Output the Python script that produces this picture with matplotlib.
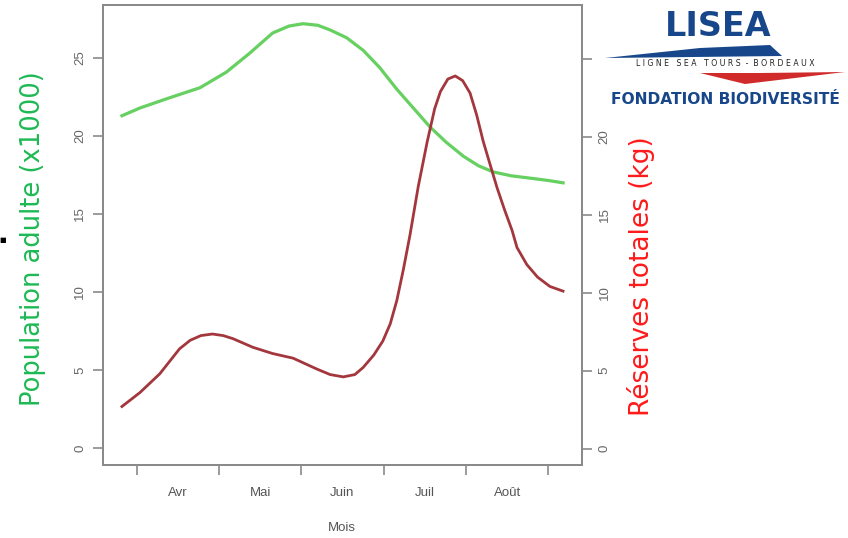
import numpy as np
import matplotlib.pyplot as plt
from matplotlib.patches import Polygon

# axe des mois : 0 = debut avril, 5 = debut septembre
mois = ["Avr", "Mai", "Juin", "Juil", "Août"]

pop_x = [-0.18, 0.04, 0.37, 0.77, 1.09, 1.37, 1.65, 1.85, 2.02, 2.2, 2.35, 2.55,
         2.75, 2.95, 3.16, 3.36, 3.56, 3.76, 3.97, 4.15, 4.33, 4.55, 4.78, 5.0, 5.18]
pop_y = [21.3, 21.8, 22.4, 23.1, 24.1, 25.3, 26.6, 27.05, 27.2, 27.1, 26.8, 26.3,
         25.5, 24.4, 23.0, 21.8, 20.6, 19.6, 18.7, 18.1, 17.7, 17.45, 17.3, 17.15, 17.0]

res_x = [-0.18, 0.04, 0.28, 0.52, 0.65, 0.78, 0.92, 1.05, 1.17, 1.41, 1.65, 1.90,
         2.19, 2.35, 2.51, 2.65, 2.75, 2.88, 2.99, 3.08, 3.16, 3.24, 3.32, 3.42,
         3.53, 3.62, 3.69, 3.78, 3.87, 3.96, 4.05, 4.13, 4.21, 4.30, 4.38, 4.47,
         4.56, 4.62, 4.74, 4.87, 5.02, 5.18]
res_y = [2.7, 3.6, 4.8, 6.4, 6.95, 7.25, 7.35, 7.25, 7.05, 6.5, 6.1, 5.8,
         5.1, 4.75, 4.6, 4.75, 5.2, 6.0, 6.9, 8.0, 9.5, 11.5, 13.7, 16.8,
         19.7, 21.8, 22.9, 23.7, 23.9, 23.6, 22.8, 21.4, 19.7, 18.1, 16.7, 15.3,
         14.0, 12.9, 11.8, 11.0, 10.4, 10.1]

W, H = 848, 538
fig = plt.figure(figsize=(W / 100, H / 100), dpi=100)
ax = fig.add_axes([103 / W, 1 - 465 / H, (582 - 103) / W, (465 - 5) / H])
ax2 = ax.twinx()

gris = "#8a8a8a"
police = "Liberation Sans"

ax.plot(pop_x, pop_y, color="#66d060", lw=2.3, solid_joinstyle="round")
ax2.plot(res_x, res_y, color="#a3373d", lw=2.0, solid_joinstyle="round")

ax.set_xlim(-0.41, 5.41)
ax.set_ylim(-1.09, 28.4)
ax2.set_ylim(-1.05, 28.45)

ax.set_xticks(range(6))
ax.set_xticklabels([])
ax.set_xticks([i + 0.5 for i in range(5)], minor=True)
ax.set_xticklabels(mois, minor=True, fontsize=9.5, color="#555555", family=police)
ax.tick_params(axis="x", which="minor", length=0, pad=16)
ax.tick_params(axis="x", which="major", length=7, width=1.2, color=gris)

ax.set_yticks(range(0, 30, 5))
ax.set_yticklabels([str(v) for v in range(0, 30, 5)], rotation=90, va="center",
                   fontsize=9.5, color="#666666", family=police)
ax.tick_params(axis="y", length=7, width=1.2, color=gris, pad=5)

ax2.set_yticks(range(0, 30, 5))
ax2.set_yticklabels([str(v) for v in range(0, 25, 5)] + [""], rotation=90,
                    va="center", fontsize=9.5, color="#666666", family=police)
ax2.tick_params(axis="y", length=7, width=1.2, color=gris, pad=5)

for a in (ax, ax2):
    for s in a.spines.values():
        s.set_color(gris)
        s.set_linewidth(1.4)

fig.text(342 / W, 1 - 528 / H, "Mois", ha="center", va="center",
         fontsize=9.5, color="#555555", family=police)

fig.text(33 / W, 1 - 239 / H, "Population adulte (x1000)", rotation=90,
         ha="center", va="center", fontsize=18.5, color="#1db954", family="DejaVu Sans")
fig.text(641 / W, 1 - 276 / H, "Réserves totales (kg)", rotation=90,
         ha="center", va="center", fontsize=19, color="#ff1a1a", family="DejaVu Sans")

fig.text(3 / W, 1 - 240 / H, "■", ha="center", va="center", fontsize=5, color="black")

# logo LISEA
bleu = "#17478a"
fig.text(718 / W, 1 - 26 / H, "LISEA", ha="center", va="center", fontsize=24,
         fontweight="bold", color=bleu, family="DejaVu Sans")
fig.patches.append(Polygon([[605 / W, 1 - 58 / H], [700 / W, 1 - 48 / H],
                            [770 / W, 1 - 45 / H], [782 / W, 1 - 56 / H]],
                           closed=True, transform=fig.transFigure,
                           facecolor=bleu, edgecolor="none"))
fig.patches.append(Polygon([[700 / W, 1 - 73 / H], [745 / W, 1 - 84 / H],
                            [845 / W, 1 - 72 / H], [760 / W, 1 - 73 / H]],
                           closed=True, transform=fig.transFigure,
                           facecolor="#d02a2a", edgecolor="none"))
fig.text(725 / W, 1 - 64 / H, "L I G N E   S E A   T O U R S  -  B O R D E A U X",
         ha="center", va="center", fontsize=5.6, color="#222222", family="DejaVu Sans")
fig.text(725 / W, 1 - 100 / H, "FONDATION BIODIVERSITÉ",
         ha="center", va="center", fontsize=11.2, fontweight="bold", color=bleu,
         family="DejaVu Sans")

fig.savefig("out.png", dpi=100)
